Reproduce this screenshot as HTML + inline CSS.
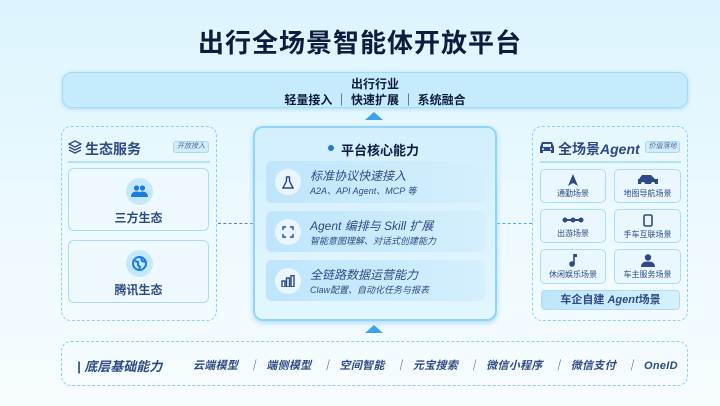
<!DOCTYPE html>
<html><head><meta charset="utf-8"><style>
*{margin:0;padding:0;box-sizing:border-box}
body{width:720px;height:406px;overflow:hidden;background:linear-gradient(180deg,#dcf4fe 0%,#eefaff 60%,#f7fcff 100%);font-family:"Liberation Sans","Noto Sans CJK SC",sans-serif;color:#1b2d5a;position:relative}
.a{position:absolute}
.t{white-space:nowrap}
.dash{border:1.5px dashed #8ccff5;border-radius:10px}
.card{background:#eef9ff;border:1.5px solid #a9dcf8;border-radius:6px}
.row{background:linear-gradient(90deg,#bfe5fb,#d4effd);border-radius:6px}
.ic{width:26px;height:26px;border-radius:50%;background:#e9f6fe;display:flex;align-items:center;justify-content:center}
.cell{background:#eaf7ff;border:1.5px solid #a9dcf8;border-radius:5px;text-align:center;font-size:8px;color:#2d4a84}
.cell svg{display:block;margin:4px auto 2px}
.tri{width:0;height:0;border-left:9px solid transparent;border-right:9px solid transparent;border-bottom:8px solid #3aa3ee}
.badge{background:#d3ecfb;border:1px solid #a9d6f4;border-radius:3px;font-size:7px;font-style:italic;color:#4a6a9a;text-align:center;line-height:10px}
</style></head><body>
<div class="a t" style="left:0;width:720px;top:23px;text-align:center;font-size:26px;font-weight:bold;color:#0d1b3e;letter-spacing:1px">出行全场景智能体开放平台</div>

<div class="a" style="left:62px;top:72px;width:626px;height:36px;background:#c6ebfd;border:1.5px solid #a3daf8;border-radius:10px;box-shadow:0 1px 4px #a8dbf7"></div>
<div class="a t" style="left:0;width:750px;top:75px;text-align:center;font-size:12px;font-weight:bold;color:#0d1b3e">出行行业</div>
<div class="a t" style="left:0;width:750px;top:91px;text-align:center;font-size:12px;font-weight:bold;color:#0d1b3e">轻量接入 ｜ 快速扩展 ｜ 系统融合</div>
<div class="a tri" style="left:365px;top:112px"></div>

<!-- left -->
<div class="a dash" style="left:61px;top:126px;width:156px;height:195px"></div>
<svg class="a" style="left:68px;top:140px" width="14" height="14" viewBox="0 0 14 14"><path d="M7 1L13 4 7 7 1 4z M1 7l6 3 6-3 M1 10l6 3 6-3" fill="none" stroke="#2d4a84" stroke-width="1.4"/></svg>
<div class="a t" style="left:85px;top:139px;font-size:14px;font-weight:bold;color:#2d4a84">生态服务</div>
<div class="a badge" style="left:173px;top:141px;width:36px;height:12px">开放接入</div>
<div class="a" style="left:68px;top:161px;width:142px;height:1.5px;background:#b5e0f8"></div>
<div class="a card" style="left:68px;top:168px;width:141px;height:63px"></div>
<div class="a" style="left:126px;top:178px;width:27px;height:27px;border-radius:50%;background:#c5e8fb"></div>
<svg class="a" style="left:131px;top:185px" width="17" height="12" viewBox="0 0 17 12"><circle cx="5.5" cy="3" r="2.6" fill="#1a7ae0"/><circle cx="11.5" cy="3" r="2.6" fill="#1a7ae0"/><path d="M0 12c0-4 2.5-5.5 5.5-5.5S11 8 11 12z M8 12c0-4 1-5.5 3.5-5.5S17 8 17 12z" fill="#1a7ae0"/></svg>
<div class="a t" style="left:68px;width:141px;top:209px;text-align:center;font-size:12px;font-weight:bold;color:#2d4a84">三方生态</div>
<div class="a card" style="left:68px;top:240px;width:141px;height:63px"></div>
<div class="a" style="left:126px;top:250px;width:27px;height:27px;border-radius:50%;background:#c5e8fb"></div>
<svg class="a" style="left:132px;top:256px" width="15" height="15" viewBox="0 0 15 15"><circle cx="7.5" cy="7.5" r="6.5" fill="none" stroke="#1a7ae0" stroke-width="2"/><path d="M3 5l3 1 0 3 2 2-1 2M9 2l1 3 3 1" fill="none" stroke="#1a7ae0" stroke-width="2"/></svg>
<div class="a t" style="left:68px;width:141px;top:281px;text-align:center;font-size:12px;font-weight:bold;color:#2d4a84">腾讯生态</div>

<div class="a" style="left:218px;top:223px;width:35px;border-top:1.5px dashed #6a7fa6"></div>
<div class="a" style="left:497px;top:223px;width:35px;border-top:1.5px dashed #4aaef0"></div>

<!-- center -->
<div class="a" style="left:253px;top:126px;width:244px;height:195px;background:linear-gradient(180deg,#d2effe,#e3f6ff);border:2px solid #91d4fa;border-radius:10px;box-shadow:0 2px 6px #a8dbf7"></div>
<div class="a" style="left:328px;top:145px;width:6px;height:6px;border-radius:50%;background:#1a7ae0"></div>
<div class="a t" style="left:341px;top:140px;font-size:13px;font-weight:bold;color:#0d1b3e">平台核心能力</div>
<div class="a row" style="left:266px;top:161px;width:219px;height:42px"></div>
<div class="a row" style="left:266px;top:211px;width:219px;height:41px"></div>
<div class="a row" style="left:266px;top:260px;width:219px;height:41px"></div>
<div class="a ic" style="left:275px;top:169px"><svg width="12" height="13" viewBox="0 0 12 13"><path d="M4 1h4M4.5 1v4L1 12h10L7.5 5V1" fill="none" stroke="#2d4a84" stroke-width="1.4"/></svg></div>
<div class="a ic" style="left:275px;top:219px"><svg width="12" height="12" viewBox="0 0 12 12"><path d="M1 4V1h3M8 1h3v3M11 8v3H8M4 11H1V8" fill="none" stroke="#2d4a84" stroke-width="1.4"/></svg></div>
<div class="a ic" style="left:275px;top:268px"><svg width="14" height="12"><rect x="1" y="6" width="3" height="6" fill="none" stroke="#2d4a84" stroke-width="1.4"/><rect x="5.5" y="3" width="3" height="9" fill="none" stroke="#2d4a84" stroke-width="1.4"/><rect x="10" y="0.7" width="3" height="11" fill="none" stroke="#2d4a84" stroke-width="1.4"/></svg></div>
<div class="a t" style="left:310px;top:167px;font-size:12px;color:#2d4a84;font-style:italic">标准协议快速接入</div>
<div class="a t" style="left:310px;top:184px;font-size:9px;color:#2d4a84;font-style:italic">A2A、API Agent、MCP 等</div>
<div class="a t" style="left:310px;top:217px;font-size:12px;color:#2d4a84;font-style:italic">Agent 编排与 Skill 扩展</div>
<div class="a t" style="left:310px;top:234px;font-size:9px;color:#2d4a84;font-style:italic">智能意图理解、对话式创建能力</div>
<div class="a t" style="left:310px;top:266px;font-size:12px;color:#2d4a84;font-style:italic">全链路数据运营能力</div>
<div class="a t" style="left:310px;top:283px;font-size:9px;color:#2d4a84;font-style:italic">Claw配置、自动化任务与报表</div>

<!-- right -->
<div class="a dash" style="left:532px;top:126px;width:156px;height:195px"></div>
<svg class="a" style="left:539px;top:141px" width="16" height="13" viewBox="0 0 16 13"><path d="M3 1h10l2 5v6h-3v-2H4v2H1V6z" fill="#2d4a84"/><rect x="4" y="3" width="8" height="3" fill="#dff4fe"/><circle cx="4" cy="8" r="1" fill="#dff4fe"/><circle cx="12" cy="8" r="1" fill="#dff4fe"/></svg>
<div class="a t" style="left:558px;top:139px;font-size:14px;font-weight:bold;color:#2d4a84">全场景<i>Agent</i></div>
<div class="a badge" style="left:645px;top:141px;width:35px;height:12px">价值落地</div>
<div class="a" style="left:540px;top:161px;width:141px;height:1.5px;background:#b5e0f8"></div>
<div class="a cell" style="left:540px;top:169px;width:66px;height:34px"><svg width="10" height="12"><path d="M5 0L10 12 5 9 0 12z" fill="#2d4a84"/></svg>通勤场景</div>
<div class="a cell" style="left:614px;top:169px;width:67px;height:34px"><svg width="22" height="12"><path d="M2 5l3-4h9l4 4h3v5H1V5z" fill="#2d4a84"/><circle cx="6" cy="10" r="2" fill="#eaf7ff"/><circle cx="16" cy="10" r="2" fill="#eaf7ff"/></svg>地图导航场景</div>
<div class="a cell" style="left:540px;top:209px;width:66px;height:34px"><svg width="22" height="12"><path d="M2 6h18" stroke="#2d4a84" stroke-width="2"/><circle cx="3" cy="6" r="2.5" fill="#2d4a84"/><circle cx="11" cy="6" r="2.5" fill="#2d4a84"/><circle cx="19" cy="6" r="2.5" fill="#2d4a84"/></svg>出游场景</div>
<div class="a cell" style="left:614px;top:209px;width:67px;height:34px"><svg width="10" height="13"><rect x="1" y="1" width="8" height="11" rx="1.5" fill="none" stroke="#2d4a84" stroke-width="1.6"/></svg>手车互联场景</div>
<div class="a cell" style="left:540px;top:249px;width:66px;height:35px"><svg width="10" height="13"><path d="M6 0v10" stroke="#2d4a84" stroke-width="1.6"/><circle cx="4" cy="10" r="2.8" fill="#2d4a84"/><path d="M6 0h3v3H6z" fill="#2d4a84"/></svg>休闲娱乐场景</div>
<div class="a cell" style="left:614px;top:249px;width:67px;height:35px"><svg width="14" height="13"><circle cx="7" cy="3.5" r="3.2" fill="#2d4a84"/><path d="M0 13c0-4 3-5.5 7-5.5s7 1.5 7 5.5z" fill="#2d4a84"/></svg>车主服务场景</div>
<div class="a t" style="left:541px;top:290px;width:139px;height:20px;background:linear-gradient(90deg,#bfe5fb,#d6f0fd);border:1px solid #a9dcf8;border-radius:4px;text-align:center;font-size:11px;font-weight:bold;line-height:18px;color:#2d4a84">车企自建 <i>Agent</i>场景</div>

<div class="a tri" style="left:365px;top:325px"></div>

<!-- bottom -->
<div class="a dash" style="left:61px;top:341px;width:627px;height:45px"></div>
<div class="a t" style="left:77px;top:356px;font-size:13px;font-weight:bold;font-style:italic;color:#2d4a84">| 底层基础能力</div>
<div class="a t" style="left:193px;top:357px;font-size:11px;font-weight:bold;font-style:italic;color:#2d4a84;letter-spacing:0.3px">云端模型 &nbsp;&nbsp;｜&nbsp; 端侧模型 &nbsp;&nbsp;｜&nbsp; 空间智能 &nbsp;&nbsp;｜&nbsp; 元宝搜索 &nbsp;&nbsp;｜&nbsp; 微信小程序 &nbsp;&nbsp;｜&nbsp; 微信支付 &nbsp;&nbsp;｜&nbsp; OneID</div>
</body></html>
